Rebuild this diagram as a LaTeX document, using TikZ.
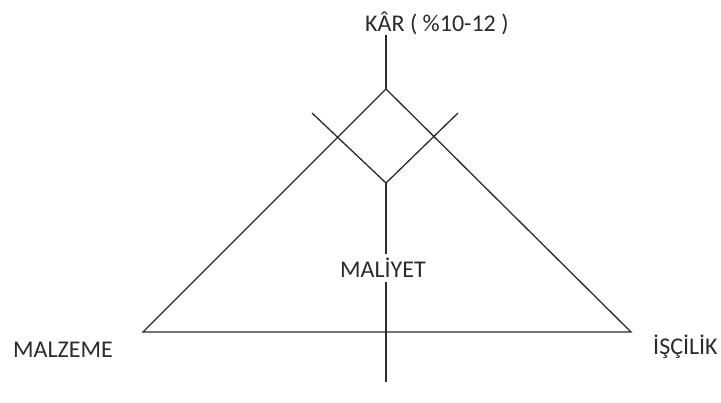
\documentclass[tikz,border=0pt]{standalone}
\usepackage{fontspec}
\setmainfont{Carlito}
\usepackage{xcolor}
\definecolor{CostInk}{HTML}{2B2B2B}
\usepackage{tikz}
\usetikzlibrary{positioning,calc}
\tikzset{
  clabel/.style={font=\fontsize{24}{26}\selectfont,text=CostInk,inner sep=0pt},
  cmid/.style={font=\fontsize{24}{26}\selectfont,text=CostInk,fill=white,inner sep=4pt},
  cline/.style={draw=CostInk,line width=1.3pt,line join=miter}
}
\begin{document}
\begin{tikzpicture}[x=1pt,y=-1pt]
  \useasboundingbox[fill=white] (0,0) rectangle (721,403);
  % corners of the triangle
  \coordinate (apex) at (386,89);
  \coordinate (left) at (143,332);
  \coordinate (right) at (631,332);
  \coordinate (top) at (386,35);
  \coordinate (low) at (386,183);
  \coordinate (foot) at (386,382);
  \coordinate (armL) at (312,113);
  \coordinate (armR) at (458,113);
  \draw[cline] (left) -- (apex) -- (right) -- cycle;
  \draw[cline] (top) -- (apex);
  \draw[cline] (armL) -- (low) -- (armR);
  \draw[cline] (low) -- (foot);
  \node[clabel,anchor=base west] (profit) at (365,32) {KÂR ( \%10-12 )};
  \node[cmid,anchor=base] (cost) at (383,278) {MALİYET};
  \node[clabel,anchor=base west] (material) at (13,358) {MALZEME};
  \node[clabel,anchor=base west] (labour) at (653,355) {İŞÇİLİK};
\end{tikzpicture}
\end{document}
